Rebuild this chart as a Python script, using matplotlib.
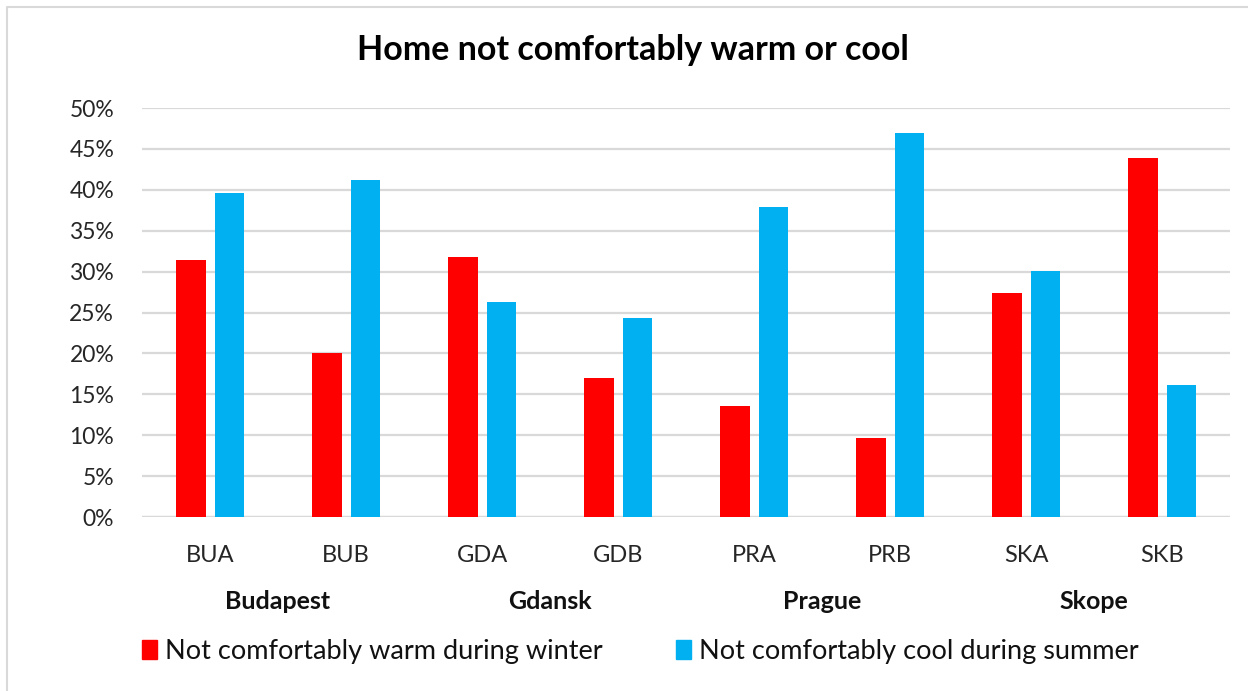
import matplotlib.pyplot as plt
import numpy as np
from matplotlib.patches import Patch
from matplotlib.lines import Line2D
from matplotlib.ticker import PercentFormatter

plt.rcParams['font.family'] = ['Lato', 'DejaVu Sans']

codes = ["BUA", "BUB", "GDA", "GDB", "PRA", "PRB", "SKA", "SKB"]
cities = ["Budapest", "Gdansk", "Prague", "Skope"]
winter = [31.4, 20.1, 31.8, 17.0, 13.6, 9.6, 27.4, 43.9]
summer = [39.6, 41.2, 26.3, 24.3, 37.9, 47.0, 30.1, 16.1]
winter_label = "Not comfortably warm during winter"
summer_label = "Not comfortably cool during summer"

red = "#ff0000"
blue = "#00b0f0"
grid = "#d9d9d9"

fig = plt.figure(figsize=(12.48, 6.91), dpi=100, facecolor="white")
ax = fig.add_axes([0.1138, 0.2518, 0.8718, 0.5919])

x = np.arange(len(codes))
w = 0.22
ax.bar(x - 0.143, winter, width=w, color=red, zorder=3)
ax.bar(x + 0.143, summer, width=w, color=blue, zorder=3)

ax.set_xlim(-0.5, len(codes) - 0.5)
ax.set_ylim(0, 50)
ax.set_yticks(np.arange(0, 51, 5))
ax.yaxis.set_major_formatter(PercentFormatter(decimals=0))
ax.grid(True, axis="y", color=grid, linewidth=1.6, zorder=0)
for s in ax.spines.values():
    s.set_visible(False)
ax.axhline(0, color=grid, linewidth=1.6, zorder=1)
ax.tick_params(axis="y", length=0, pad=20, labelsize=16.5, labelcolor="#262626")
ax.set_xticks(x)
ax.set_xticklabels(codes)
ax.tick_params(axis="x", length=0, pad=20, labelsize=17, labelcolor="#262626")

for i, c in enumerate(cities):
    ax.text(2 * i + 0.5, -0.207, c, transform=ax.get_xaxis_transform(),
            ha="center", va="center", fontsize=18, fontweight="bold", color="#111")

fig.text(0.507, 0.928, "Home not comfortably warm or cool", fontsize=24.5,
         fontweight="bold", color="black", ha="center", va="center")

handles = [Patch(color=red, label=winter_label), Patch(color=blue, label=summer_label)]
fig.legend(handles=handles, loc="center", bbox_to_anchor=(0.513, 0.057), ncol=2,
           frameon=False, fontsize=19.5, handlelength=0.55, handleheight=0.7,
           handletextpad=0.3, columnspacing=2.7, labelcolor="#111")

# chart border (only left and top edges visible in the crop)
fig.add_artist(Line2D([7 / 1248, 7 / 1248, 1.0], [0.0, 1 - 7 / 691, 1 - 7 / 691],
                      transform=fig.transFigure, color=grid, linewidth=1.5))

plt.savefig("out.png", dpi=100, facecolor="white")
